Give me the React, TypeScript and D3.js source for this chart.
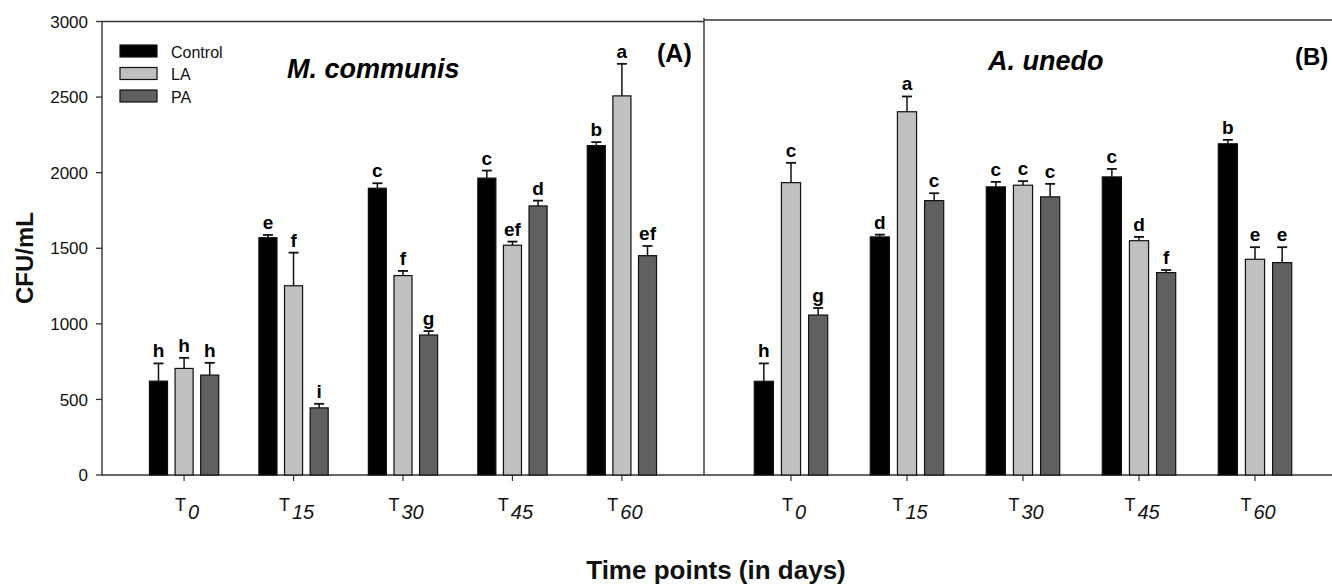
import { useEffect, useRef } from "react";
import * as d3 from "d3";

const times = ["0", "15", "30", "45", "60"];
const seriesNames = ["Control", "LA", "PA"];
const seriesColors = ["#000000", "#c0c0c0", "#606060"];
const yTicks = [0, 500, 1000, 1500, 2000, 2500, 3000];

// M. communis (A)
const mcControl = [621, 1570, 1897, 1964, 2179];
const mcLA = [705, 1252, 1319, 1520, 2508];
const mcPA = [661, 444, 926, 1780, 1451];
const mcControlErr = [117, 18, 33, 50, 23];
const mcLAErr = [70, 219, 31, 24, 212];
const mcPAErr = [81, 27, 26, 35, 64];
const mcControlLetters = ["h", "e", "c", "c", "b"];
const mcLALetters = ["h", "f", "f", "ef", "a"];
const mcPALetters = ["h", "i", "g", "d", "ef"];

// A. unedo (B)
const auControl = [620, 1575, 1906, 1972, 2191];
const auLA = [1934, 2403, 1917, 1550, 1427];
const auPA = [1058, 1815, 1840, 1339, 1405];
const auControlErr = [118, 15, 33, 53, 26];
const auLAErr = [131, 101, 27, 25, 80];
const auPAErr = [47, 49, 86, 17, 102];
const auControlLetters = ["h", "d", "c", "c", "b"];
const auLALetters = ["c", "a", "c", "d", "e"];
const auPALetters = ["g", "c", "c", "f", "e"];

const FONT = "'Liberation Sans', Arial, Helvetica, sans-serif";

export default function App() {
  const svgRef = useRef<SVGSVGElement>(null);

  useEffect(() => {
    const width = 1332;
    const height = 585;
    const svg = d3.select(svgRef.current);
    svg.selectAll("*").remove();
    svg.attr("font-family", FONT);

    const y = d3.scaleLinear().domain([0, 3000]).range([475, 21.5]);
    const lineColor = "#333";

    const panels = [
      {
        x0: 102,
        x1: 704,
        top: 21.5,
        means: [mcControl, mcLA, mcPA],
        errs: [mcControlErr, mcLAErr, mcPAErr],
        letters: [mcControlLetters, mcLALetters, mcPALetters],
      },
      {
        x0: 704,
        x1: 1342,
        top: 20,
        means: [auControl, auLA, auPA],
        errs: [auControlErr, auLAErr, auPAErr],
        letters: [auControlLetters, auLALetters, auPALetters],
      },
    ];

    panels.forEach((p, pi) => {
      const g = svg.append("g");
      const x = d3.scalePoint().domain(times).range([p.x0, p.x1]).padding(0.75);
      const step = x.step();
      const inner = d3
        .scaleBand()
        .domain(seriesNames)
        .range([-0.351 * step, 0.351 * step])
        .paddingInner(0.295)
        .paddingOuter(0.1475);
      const bw = inner.bandwidth();

      // frame: left line, top line, bottom axis
      g.append("line")
        .attr("x1", p.x0).attr("x2", p.x0)
        .attr("y1", pi === 1 ? 18 : p.top).attr("y2", y(0))
        .attr("stroke", lineColor).attr("stroke-width", 1.4);
      g.append("line")
        .attr("x1", p.x0).attr("x2", p.x1)
        .attr("y1", p.top).attr("y2", p.top)
        .attr("stroke", lineColor).attr("stroke-width", 1.4);
      g.append("line")
        .attr("x1", p.x0).attr("x2", p.x1)
        .attr("y1", y(0)).attr("y2", y(0))
        .attr("stroke", lineColor).attr("stroke-width", 1.4);

      // x ticks + labels
      times.forEach((t) => {
        const cx = x(t)!;
        g.append("line")
          .attr("x1", cx).attr("x2", cx)
          .attr("y1", y(0)).attr("y2", y(0) + 6)
          .attr("stroke", lineColor).attr("stroke-width", 1.2);
        const txt = g.append("text")
          .attr("x", cx + 3)
          .attr("y", 511)
          .attr("text-anchor", "middle")
          .attr("font-size", 18)
          .attr("fill", "#111");
        txt.append("tspan").text("T");
        txt.append("tspan")
          .attr("dy", 8)
          .attr("dx", 2)
          .attr("font-style", "italic")
          .attr("font-size", 20)
          .text(t);
      });

      // bars
      seriesNames.forEach((s, si) => {
        times.forEach((t, ti) => {
          const v = p.means[si][ti];
          const e = p.errs[si][ti];
          const bx = x(t)! + inner(s)!;
          const cx = bx + bw / 2;
          g.append("line")
            .attr("x1", cx).attr("x2", cx)
            .attr("y1", y(v)).attr("y2", y(v + e))
            .attr("stroke", "#111").attr("stroke-width", 1.5);
          g.append("line")
            .attr("x1", cx - 5).attr("x2", cx + 5)
            .attr("y1", y(v + e)).attr("y2", y(v + e))
            .attr("stroke", "#111").attr("stroke-width", 1.8);
          g.append("rect")
            .attr("x", bx)
            .attr("y", y(v))
            .attr("width", bw)
            .attr("height", y(0) - y(v))
            .attr("fill", seriesColors[si])
            .attr("stroke", "#111")
            .attr("stroke-width", 1.2);
          g.append("text")
            .attr("x", cx)
            .attr("y", y(v + e) - 6)
            .attr("text-anchor", "middle")
            .attr("font-size", 19)
            .attr("font-weight", "bold")
            .attr("fill", "#000")
            .text(p.letters[si][ti]);
        });
      });
    });

    // y axis ticks
    const ya = svg.append("g");
    yTicks.forEach((v) => {
      ya.append("line")
        .attr("x1", 96).attr("x2", 102)
        .attr("y1", y(v)).attr("y2", y(v))
        .attr("stroke", lineColor).attr("stroke-width", 1.3);
      ya.append("text")
        .attr("x", 88)
        .attr("y", y(v))
        .attr("dy", "0.36em")
        .attr("text-anchor", "end")
        .attr("font-size", 17)
        .attr("fill", "#111")
        .text(String(v));
    });

    // y label
    svg.append("text")
      .attr("transform", "translate(33,258) rotate(-90)")
      .attr("text-anchor", "middle")
      .attr("font-size", 24)
      .attr("font-weight", "bold")
      .attr("fill", "#111")
      .text("CFU/mL");

    // x title
    svg.append("text")
      .attr("x", 716)
      .attr("y", 579)
      .attr("text-anchor", "middle")
      .attr("font-size", 26)
      .attr("font-weight", "bold")
      .attr("fill", "#111")
      .text("Time points (in days)");

    // legend
    const legend = svg.append("g");
    seriesNames.forEach((s, i) => {
      const ly = 45 + i * 22.5;
      legend.append("rect")
        .attr("x", 120).attr("y", ly)
        .attr("width", 37).attr("height", 12)
        .attr("fill", seriesColors[i])
        .attr("stroke", "#111").attr("stroke-width", 1.2);
      legend.append("text")
        .attr("x", 171).attr("y", ly + 12.5)
        .attr("font-size", 16)
        .attr("fill", "#111")
        .text(s);
    });

    // titles
    svg.append("text")
      .attr("x", 287).attr("y", 78)
      .attr("font-size", 27)
      .attr("font-weight", "bold")
      .attr("font-style", "italic")
      .text("M. communis");
    svg.append("text")
      .attr("x", 657).attr("y", 62)
      .attr("font-size", 25)
      .attr("font-weight", "bold")
      .text("(A)");
    svg.append("text")
      .attr("x", 988).attr("y", 70)
      .attr("font-size", 27)
      .attr("font-weight", "bold")
      .attr("font-style", "italic")
      .text("A. unedo");
    svg.append("text")
      .attr("x", 1295).attr("y", 65)
      .attr("font-size", 24)
      .attr("font-weight", "bold")
      .text("(B)");

    svg.attr("width", width).attr("height", height);
  }, []);

  return (
    <div style={{ position: "absolute", left: 0, top: 0 }}>
      <svg ref={svgRef} width={1332} height={585} style={{ display: "block", background: "#fff" }}></svg>
    </div>
  );
}
